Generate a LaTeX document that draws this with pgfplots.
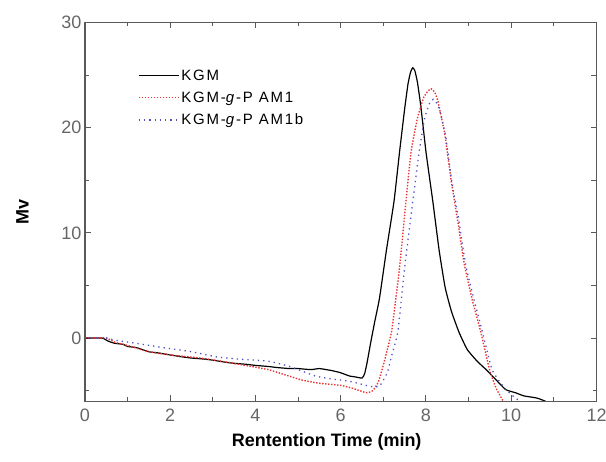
\documentclass[border=0pt]{standalone}
\usepackage{pgfplots}
\pgfplotsset{compat=1.18}
\usetikzlibrary{calc}
\usepackage{fontspec}
\setmainfont{Liberation Sans}
\newfontfamily\legfont[LetterSpace=12]{Liberation Sans}
\definecolor{myred}{RGB}{235,50,50}
\definecolor{myblue}{RGB}{80,80,200}
\begin{document}
\begin{tikzpicture}
\begin{axis}[
  name=ax,
  at={(0pt,0pt)}, anchor=south west,
  scale only axis, width=512pt, height=379pt,
  xmin=0, xmax=12, ymin=-6, ymax=30,
  xtick={0,2,...,12}, ytick={0,10,20,30},
  minor xtick={1,3,...,11}, minor ytick={-5,5,15,25},
  tick align=inside,
  major tick length=6pt, minor tick length=4pt,
  axis line style={black!65, line width=1.2pt},
  every tick/.style={black!65, line width=1pt},
  tick label style={font=\fontsize{18}{20}\selectfont, text=black!60},
  xticklabel style={yshift=-4pt},
  /pgf/number format/assume math mode=true,
  xlabel={\bfseries Rentention Time (min)},
  ylabel={\bfseries Mv},
  xlabel style={font=\fontsize{18}{20}\selectfont, yshift=-5pt, xshift=-14pt},
  ylabel style={font=\fontsize{18}{20}\selectfont, yshift=26pt},
  legend style={at={(axis cs:1.17,25.9)}, anchor=north west, draw=none, fill=none,
    font=\legfont\fontsize{15}{17}\selectfont, row sep=6pt, legend cell align=left},
  legend image code/.code={\draw[#1] (0pt,0pt) -- (40pt,0pt);},
]
\addplot[black, line width=1.2pt, smooth, tension=0.3] coordinates {
(0,0) (0.4,0) (0.55,-0.3) (0.7,-0.5) (0.9,-0.6) (1.0,-0.8) (1.2,-0.9) (1.5,-1.3) (1.7,-1.4) (2.0,-1.6) (2.3,-1.8) (2.5,-1.9) (2.8,-2.0) (3.0,-2.1) (3.3,-2.3) (3.5,-2.4) (3.8,-2.5) (4.0,-2.6) (4.3,-2.7) (4.5,-2.8) (4.8,-2.9) (5.0,-2.9) (5.3,-3.0) (5.5,-2.9) (5.8,-3.1) (6.0,-3.3) (6.2,-3.6) (6.35,-3.7) (6.5,-3.8) (6.56,-3.4) (6.62,-2.3) (6.7,-0.5) (6.8,1.6) (6.91,3.8) (7.07,8.3) (7.25,13.0) (7.38,17.7) (7.5,21.8) (7.58,24.2) (7.64,25.3) (7.69,25.7) (7.74,25.4) (7.8,24.3) (7.88,22.0) (8.0,17.7) (8.16,13.0) (8.31,8.3) (8.45,4.8) (8.6,2.5) (8.78,0.5) (8.97,-1.1) (9.2,-2.2) (9.41,-3.0) (9.65,-4.0) (9.87,-4.9) (10.1,-5.2) (10.3,-5.5) (10.6,-5.7) (10.8,-6.0)
};
\addlegendentry{KGM}
\addplot[myred, line width=1.4pt, dash pattern=on 1.4pt off 1.6pt, smooth, tension=0.3] coordinates {
(0,0) (0.5,0) (0.7,-0.4) (1.0,-0.7) (1.5,-1.3) (2.0,-1.6) (2.7,-1.9) (3.2,-2.2) (3.9,-2.7) (4.3,-3.0) (4.7,-3.5) (5.1,-4.0) (5.5,-4.3) (6.0,-4.5) (6.3,-4.8) (6.6,-5.2) (6.75,-5.0) (6.88,-4.2) (6.97,-3.0) (7.08,-1.3) (7.2,0.8) (7.38,6.7) (7.53,13.0) (7.65,17.7) (7.8,20.9) (7.95,22.9) (8.05,23.5) (8.12,23.7) (8.2,23.4) (8.28,22.5) (8.44,19.4) (8.59,15.0) (8.75,11.0) (8.9,7.0) (9.1,3.4) (9.29,0.5) (9.49,-3.0) (9.65,-4.8) (9.81,-6.0)
};
\addlegendentry{KGM-\textit{g}-P AM1}
\addplot[myblue, line width=1.3pt, dash pattern=on 1.3pt off 4pt, smooth, tension=0.3] coordinates {
(0,0) (0.5,0) (0.7,-0.2) (1.2,-0.5) (1.9,-0.95) (2.5,-1.3) (3.1,-1.8) (3.6,-2.0) (4.3,-2.2) (4.8,-2.7) (5.4,-3.6) (5.8,-3.9) (6.2,-4.1) (6.7,-4.6) (6.9,-4.6) (7.0,-4.0) (7.1,-3.2) (7.2,-1.6) (7.34,0.6) (7.5,6.7) (7.69,13.0) (7.85,18.0) (7.97,20.9) (8.08,22.3) (8.17,22.7) (8.27,22.2) (8.35,21.2) (8.47,19.0) (8.6,15.0) (8.77,11.2) (8.93,7.0) (9.13,3.6) (9.33,0.5) (9.55,-3.0) (9.85,-4.8) (10.1,-5.7) (10.2,-6.0)
};
\addlegendentry{KGM-\textit{g}-P AM1b}
\end{axis}
\draw[black!65, line width=1.2pt] (ax.south west) rectangle (ax.north east);
\foreach \i in {1,...,11} {
  \pgfmathsetmacro{\L}{ifthenelse(mod(\i,2)==0,6,4)}
  \draw[black!65, line width=1pt] ($(ax.north west)!\i/12!(ax.north east)$) -- ++(0,-\L pt);
}
\foreach \j in {1,...,7} {
  \pgfmathsetmacro{\L}{ifthenelse(mod(\j,2)==0,6,4)}
  \draw[black!65, line width=1pt] ($(ax.south east)!{(\j*5-5+6)/36}!(ax.north east)$) -- ++(-\L pt,0);
}
\pgfresetboundingbox
\path[use as bounding box] (-85pt,-60pt) rectangle (521.5pt,401.5pt);
\end{tikzpicture}
\end{document}
